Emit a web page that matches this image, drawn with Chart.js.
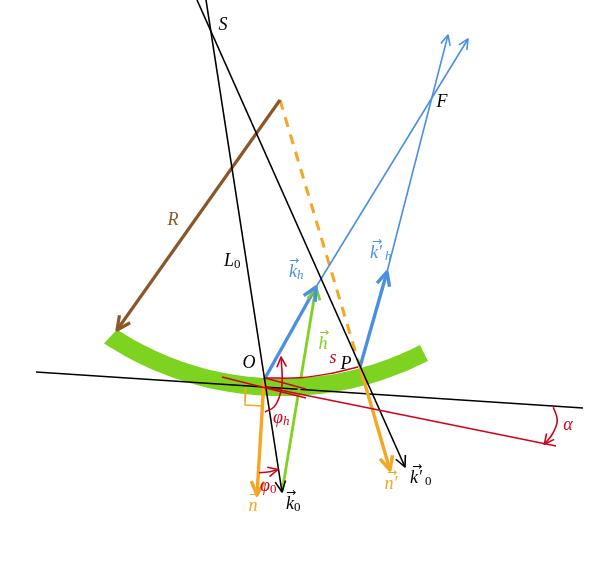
<!DOCTYPE html>
<html>
<head>
<meta charset="utf-8">
<style>
html, body { margin: 0; padding: 0; background: #fff; }
canvas { display: block; }
</style>
<script src="https://cdn.jsdelivr.net/npm/chart.js@4/dist/chart.umd.min.js"></script>
</head>
<body>
<canvas id="diagram" width="592" height="563"></canvas>
<script>
// values, in picture units (y goes down)
// band outline: upper edge left to right, then lower edge back
// corners are listed twice so the smoothing leaves them sharp
const bandX = [117, 117, 140, 170, 200, 230, 260, 290, 320, 350, 380, 410, 420, 420,
               428, 428, 400, 370, 340, 310, 280, 250, 220, 190, 160, 130, 104, 104, 117, 117];
const bandY = [329.5, 329.5, 343.1, 357, 367.2, 374, 377.7, 378.4, 376.1, 370.7, 362, 349.9, 345, 345,
               360.9, 360.9, 373.5, 383.7, 390.7, 394.8, 396.1, 394.6, 390.3, 383, 372.6, 358.7, 343.5, 343.5, 329.5, 329.5];
const surfaceLineX = [36, 583];
const surfaceLineY = [372, 408];
const axisOX = [206, 282];
const axisOY = [0, 492];
const axisPX = [197, 405];
const axisPY = [0, 467];
const radiusX = [280, 117];
const radiusY = [100, 330];
const dashedX = [280, 360];
const dashedY = [100, 367];
const normalOX = [264, 257];
const normalOY = [380, 495];
const normalPX = [360, 390];
const normalPY = [367, 470];
const squareX = [246, 245, 263];
const squareY = [387, 405, 406];
const hVectorX = [282, 316];
const hVectorY = [492, 287];
const kOX = [264, 316];
const kOY = [380, 287];
const kPX = [360, 387];
const kPY = [367, 272];
const rayOX = [316, 468];
const rayOY = [287, 39];
const rayPX = [387, 448];
const rayPY = [272, 35];
const planeAX = [222, 306];
const planeAY = [377, 398];
const planeBX = [265, 306];
const planeBY = [378, 389];
const planeCX = [265, 556];
const planeCY = [387, 446];
const arcSX = [265, 300, 333, 358];
const arcSY = [378, 377.7, 373, 367];
const arcPhiHX = [265, 274, 279, 282, 282, 281];
const arcPhiHY = [412, 407, 398, 385, 372, 357];
const arcPhi0X = [259, 268, 278];
const arcPhi0Y = [472.7, 472, 469.5];
const arcAlphaX = [553.3, 557.3, 553, 544.3];
const arcAlphaY = [407.3, 420, 433, 444.3];

const labelText = ["S", "F", "R", "L", "O", "P", "s", "k", "k′", "h", "φ", "φ", "n", "n′", "k", "k′", "α"];
const labelSub = ["", "", "", "0", "", "", "", "h", "h", "", "h", "0", "", "", "0", "0", ""];
const labelVec = [0, 0, 0, 0, 0, 0, 0, 1, 1, 1, 0, 0, 1, 1, 1, 1, 0];
const labelX = [223, 442, 173, 229, 249, 346, 333, 293, 376, 323, 278, 265, 253, 391, 290, 416, 568];
const labelY = [25, 102, 220, 261, 363, 364, 358, 272, 253, 344, 418, 486, 506, 484, 504, 478, 425];

const BLACK = "#000000";
const GREEN = "#7ed321";
const ORANGE = "#f5a623";
const BLUE = "#4a90e2";
const RED = "#d0021b";
const BROWN = "#8b572a";
const labelColor = [BLACK, BLACK, BROWN, BLACK, BLACK, BLACK, RED, BLUE, BLUE, GREEN, RED, RED, ORANGE, ORANGE, BLACK, BLACK, RED];

function series(xs, ys, color, width, extra) {
    return Object.assign({
        data: xs.map((x, i) => ({ x: x, y: ys[i] })),
        borderColor: color,
        borderWidth: width,
        showLine: true,
        pointRadius: 0,
        borderCapStyle: "butt",
        borderJoinStyle: "miter"
    }, extra || {});
}

const datasets = [
    series(bandX, bandY, GREEN, 0, { fill: "shape", backgroundColor: GREEN, tension: 0.4 }),
    series(surfaceLineX, surfaceLineY, BLACK, 1.6),
    series(dashedX, dashedY, ORANGE, 3, { borderDash: [10, 8] }),
    series(squareX, squareY, ORANGE, 1.4),
    series(rayOX, rayOY, BLUE, 1.6, { arrow: 11 }),
    series(rayPX, rayPY, BLUE, 1.6, { arrow: 11 }),
    series(hVectorX, hVectorY, GREEN, 2.8, { arrow: 14 }),
    series(kOX, kOY, BLUE, 3.4, { arrow: 15 }),
    series(kPX, kPY, BLUE, 3.4, { arrow: 15 }),
    series(normalOX, normalOY, ORANGE, 3.4, { arrow: 15 }),
    series(normalPX, normalPY, ORANGE, 3.4, { arrow: 15 }),
    series(radiusX, radiusY, BROWN, 3.2, { arrow: 15 }),
    series(axisOX, axisOY, BLACK, 1.6, { arrow: 12 }),
    series(axisPX, axisPY, BLACK, 1.6, { arrow: 12 }),
    series(planeAX, planeAY, RED, 1.5),
    series(planeBX, planeBY, RED, 1.5),
    series(planeCX, planeCY, RED, 1.5),
    series(arcSX, arcSY, RED, 1.5, { tension: 0.4 }),
    series(arcPhiHX, arcPhiHY, RED, 1.6, { tension: 0.4, arrow: 11 }),
    series(arcPhi0X, arcPhi0Y, RED, 1.6, { tension: 0.4, arrow: 11 }),
    series(arcAlphaX, arcAlphaY, RED, 1.6, { tension: 0.4, arrow: 11 })
];
datasets.forEach((d, i) => { d.order = datasets.length - i; });

// open arrow heads and the letters, placed through the chart's scales
const decorations = {
    id: "decorations",
    afterDatasetsDraw(chart) {
        const c = chart.ctx;
        const sx = chart.scales.x;
        const sy = chart.scales.y;
        c.save();
        chart.data.datasets.forEach(d => {
            if (!d.arrow) return;
            const n = d.data.length;
            const tipX = sx.getPixelForValue(d.data[n - 1].x);
            const tipY = sy.getPixelForValue(d.data[n - 1].y);
            const a = Math.atan2(tipY - sy.getPixelForValue(d.data[n - 2].y),
                                 tipX - sx.getPixelForValue(d.data[n - 2].x));
            c.strokeStyle = d.borderColor;
            c.lineWidth = d.borderWidth;
            c.lineCap = "butt";
            c.lineJoin = "round";
            c.beginPath();
            c.moveTo(tipX - d.arrow * Math.cos(a - 0.45), tipY - d.arrow * Math.sin(a - 0.45));
            c.lineTo(tipX, tipY);
            c.lineTo(tipX - d.arrow * Math.cos(a + 0.45), tipY - d.arrow * Math.sin(a + 0.45));
            c.stroke();
        });
        c.textBaseline = "middle";
        labelText.forEach((t, i) => {
            const x = sx.getPixelForValue(labelX[i]);
            const y = sy.getPixelForValue(labelY[i]);
            c.fillStyle = labelColor[i];
            c.font = "italic 18px 'Liberation Serif'";
            c.textAlign = "center";
            c.fillText(t, x, y);
            const w = c.measureText(t).width;
            if (labelSub[i]) {
                const upright = labelSub[i] === "0";
                c.font = (upright ? "" : "italic ") + "13px 'Liberation Serif'";
                c.textAlign = "left";
                c.fillText(labelSub[i], x + w / 2 + (labelText[i].length > 1 ? 3 : 0), y + 4);
            }
            if (labelVec[i]) {
                c.font = "12px 'DejaVu Sans'";
                c.textAlign = "center";
                c.fillText("→", x + 1, y - 11);
            }
        });
        c.restore();
    }
};

new Chart(document.getElementById("diagram").getContext("2d"), {
    type: "scatter",
    data: { datasets: datasets },
    options: {
        responsive: false,
        animation: false,
        layout: { padding: 0 },
        plugins: { legend: { display: false }, tooltip: { enabled: false } },
        scales: {
            x: { type: "linear", min: 0, max: 592, display: false },
            y: { type: "linear", min: 0, max: 563, reverse: true, display: false }
        }
    },
    plugins: [decorations]
});
</script>
</body>
</html>
